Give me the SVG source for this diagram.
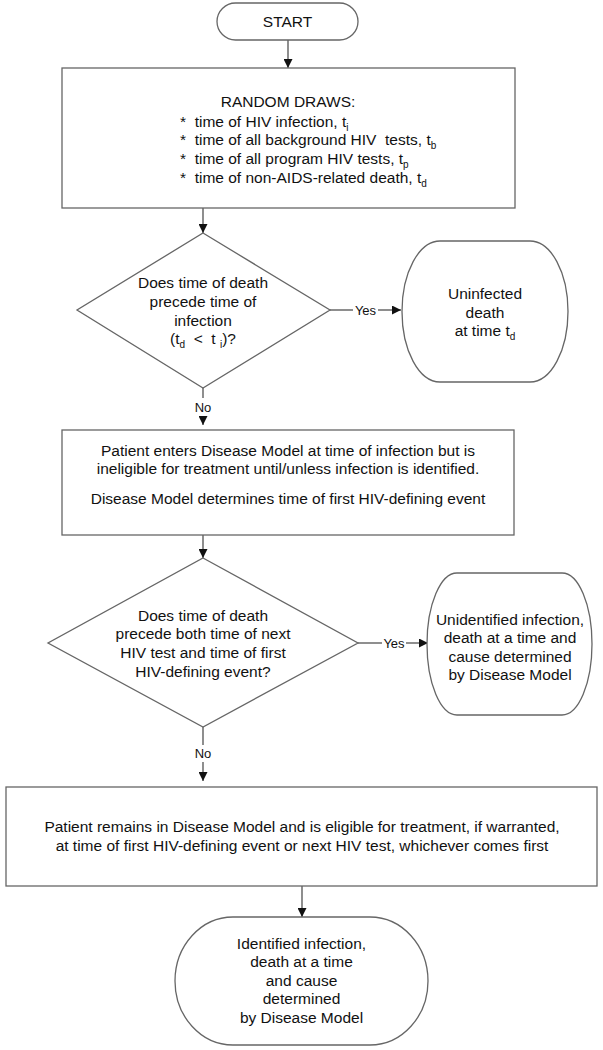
<svg xmlns="http://www.w3.org/2000/svg" width="603" height="1050" viewBox="0 0 603 1050">
<defs>
<marker id="arr" markerWidth="9" markerHeight="9" refX="9" refY="4.5" orient="auto" markerUnits="userSpaceOnUse">
<path d="M0,0 L9,4.5 L0,9 z" fill="#111"/>
</marker>
<style>
.shape{fill:#fff;stroke:#666;stroke-width:1.3}
.t{font-family:"Liberation Sans",Arial,sans-serif;font-size:15.5px;fill:#111;text-anchor:middle}
.tl{font-family:"Liberation Sans",Arial,sans-serif;font-size:15.5px;fill:#111}
.lab{font-family:"Liberation Sans",Arial,sans-serif;font-size:13px;fill:#111;text-anchor:middle}
.c{fill:none;stroke:#444;stroke-width:1.2}
.sub{font-size:10px}
</style>
</defs>
<rect width="603" height="1050" fill="#fff"/>
<g id="connectors">
<line class="c" x1="288" y1="40" x2="288" y2="68" marker-end="url(#arr)"/>
<line class="c" x1="203" y1="208" x2="203" y2="233" marker-end="url(#arr)"/>
<line class="c" x1="330" y1="310" x2="353" y2="310"/>
<line class="c" x1="378" y1="310" x2="401" y2="310" marker-end="url(#arr)"/>
<text class="lab" x="365.5" y="314.5">Yes</text>
<line class="c" x1="203" y1="388" x2="203" y2="398"/>
<text class="lab" x="203" y="412">No</text>
<line class="c" x1="203" y1="416" x2="203" y2="425" marker-end="url(#arr)"/>
<line class="c" x1="203" y1="535" x2="203" y2="558" marker-end="url(#arr)"/>
<line class="c" x1="358" y1="643" x2="382" y2="643"/>
<line class="c" x1="406" y1="643" x2="428" y2="643" marker-end="url(#arr)"/>
<text class="lab" x="394" y="647.5">Yes</text>
<line class="c" x1="203" y1="727" x2="203" y2="745"/>
<text class="lab" x="203" y="758">No</text>
<line class="c" x1="203" y1="762" x2="203" y2="781" marker-end="url(#arr)"/>
<line class="c" x1="302" y1="886" x2="302" y2="917" marker-end="url(#arr)"/>
</g>
<g id="start">
<rect class="shape" x="217" y="3" width="141" height="37" rx="18.5" ry="18.5"/>
<text class="t" x="287.5" y="27">START</text>
</g>
<g id="random-draws">
<rect class="shape" x="62" y="68" width="453" height="140"/>
<text class="t" x="288" y="107">RANDOM DRAWS:</text>
<text class="tl" x="180" y="126.5" xml:space="preserve">*  time of HIV infection, t<tspan class="sub" dy="4">i</tspan></text>
<text class="tl" x="180" y="145" xml:space="preserve">*  time of all background HIV  tests, t<tspan class="sub" dy="4">b</tspan></text>
<text class="tl" x="180" y="164" xml:space="preserve">*  time of all program HIV tests, t<tspan class="sub" dy="4">p</tspan></text>
<text class="tl" x="180" y="182.5" xml:space="preserve">*  time of non-AIDS-related death, t<tspan class="sub" dy="4">d</tspan></text>
</g>
<g id="decision1">
<polygon class="shape" points="203,233 330,310 203,388 77,310"/>
<text class="t" x="203" y="287.5">Does time of death</text>
<text class="t" x="203" y="306.5">precede time of</text>
<text class="t" x="203" y="325.5">infection</text>
<text class="t" x="203" y="343.5" xml:space="preserve">(t<tspan class="sub" dy="4">d</tspan><tspan dy="-4">  &lt;  t </tspan><tspan class="sub" dy="4">i</tspan><tspan dy="-4">)?</tspan></text>
</g>
<g id="uninfected">
<rect class="shape" x="402" y="241" width="166" height="141" rx="38" ry="70.5"/>
<text class="t" x="485" y="298.5">Uninfected</text>
<text class="t" x="485" y="317.5">death</text>
<text class="t" x="485" y="335.5">at time t<tspan class="sub" dy="4">d</tspan></text>
</g>
<g id="enter-model">
<rect class="shape" x="62" y="430" width="452" height="105"/>
<text class="t" x="288" y="455.5">Patient enters Disease Model at time of infection but is</text>
<text class="t" x="288" y="473.5">ineligible for treatment until/unless infection is identified.</text>
<text class="t" x="288" y="503.5">Disease Model determines time of first HIV-defining event</text>
</g>
<g id="decision2">
<polygon class="shape" points="203,558 358,643 203,727 48,643"/>
<text class="t" x="203" y="620.5">Does time of death</text>
<text class="t" x="203" y="639">precede both time of next</text>
<text class="t" x="203" y="658">HIV test and time of first</text>
<text class="t" x="203" y="676.5">HIV-defining event?</text>
</g>
<g id="unidentified">
<rect class="shape" x="427" y="573" width="165" height="142" rx="30" ry="71"/>
<text class="t" x="510" y="624.5">Unidentified infection,</text>
<text class="t" x="510" y="643">death at a time and</text>
<text class="t" x="510" y="661.5">cause determined</text>
<text class="t" x="510" y="680">by Disease Model</text>
</g>
<g id="remains">
<rect class="shape" x="6" y="787" width="591" height="99"/>
<text class="t" x="302" y="831.5">Patient remains in Disease Model and is eligible for treatment, if warranted,</text>
<text class="t" x="302" y="851">at time of first HIV-defining event or next HIV test, whichever comes first</text>
</g>
<g id="identified">
<rect class="shape" x="175" y="917" width="253" height="128" rx="58" ry="64"/>
<text class="t" x="301.5" y="948.5">Identified infection,</text>
<text class="t" x="301.5" y="967">death at a time</text>
<text class="t" x="301.5" y="985.5">and cause</text>
<text class="t" x="301.5" y="1004">determined</text>
<text class="t" x="301.5" y="1022.5">by Disease Model</text>
</g>
</svg>
